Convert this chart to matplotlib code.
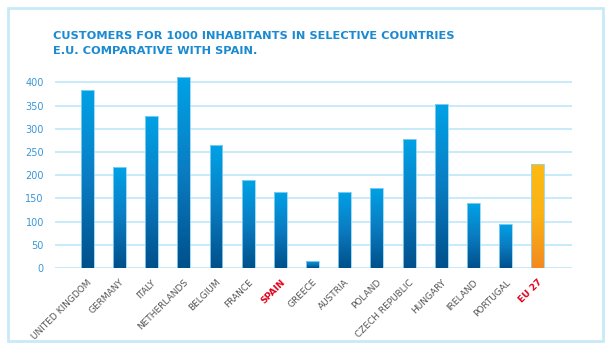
import numpy as np
import matplotlib.pyplot as plt
from matplotlib.colors import LinearSegmentedColormap
from matplotlib.patches import Rectangle

# Customers per 1000 inhabitants
countries = ["UNITED KINGDOM", "GERMANY", "ITALY", "NETHERLANDS", "BELGIUM",
             "FRANCE", "SPAIN", "GREECE", "AUSTRIA", "POLAND", "CZECH REPUBLIC",
             "HUNGARY", "IRELAND", "PORTUGAL", "EU 27"]
customers = [384, 217, 327, 411, 265, 189, 164, 16, 164, 173, 279, 353, 140, 95, 225]
highlight = ["SPAIN", "EU 27"]
yticks = [0, 50, 100, 150, 200, 250, 300, 350, 400]

blue_cmap = LinearSegmentedColormap.from_list("blue", ["#00508b", "#0a7cc2", "#00a2e6"])
orange_cmap = LinearSegmentedColormap.from_list("orange", ["#f28a20", "#fbb216", "#fdba13"])

fig = plt.figure(figsize=(6.11, 3.54), dpi=100)
ax = fig.add_axes([55 / 611, 1 - 268 / 354, (572 - 55) / 611, (268 - 73.2) / 354])

x = np.arange(len(countries))
bars = ax.bar(x, customers, width=0.4, color="none", edgecolor="#8fd3f3", linewidth=0.6, zorder=3)

# vertical gradient inside each bar
grad = np.linspace(0, 1, 256).reshape(-1, 1)
for name, b in zip(countries, bars):
    cmap = orange_cmap if name == "EU 27" else blue_cmap
    x0, w, h = b.get_x(), b.get_width(), b.get_height()
    im = ax.imshow(grad, extent=[x0, x0 + w, 0, h], origin="lower", aspect="auto",
                   cmap=cmap, zorder=2)
    im.set_clip_path(b)

ax.set_xlim(-1.0, 15.06)
ax.set_ylim(0, 420)

ax.set_yticks(yticks)
ax.yaxis.grid(True, color="#bfe6f7", linewidth=1.2)
ax.set_axisbelow(True)
for s in ax.spines.values():
    s.set_visible(False)
ax.tick_params(axis="y", length=0, pad=8, labelsize=7, labelcolor="#3a96d6")
ax.tick_params(axis="x", length=0, pad=7)

ax.set_xticks(x)
ax.set_xticklabels(countries, rotation=45, ha="right", va="top",
                   rotation_mode="anchor", fontsize=6.5, color="#555555")
for lbl in ax.get_xticklabels():
    if lbl.get_text() in highlight:
        lbl.set_color("#e2001a")
        lbl.set_fontweight("bold")

fig.text(53 / 611, 1 - 31 / 354,
         "CUSTOMERS FOR 1000 INHABITANTS IN SELECTIVE COUNTRIES\nE.U. COMPARATIVE WITH SPAIN.",
         ha="left", va="top", fontsize=8.2, fontweight="bold", color="#1b8ad0",
         linespacing=1.6)

# light blue frame around the chart
fig.patches.append(Rectangle((8 / 611, 13 / 354), 595 / 611, 333 / 354,
                             transform=fig.transFigure, fill=False,
                             edgecolor="#c8eaf8", linewidth=2))

fig.savefig("out.png", dpi=100)
